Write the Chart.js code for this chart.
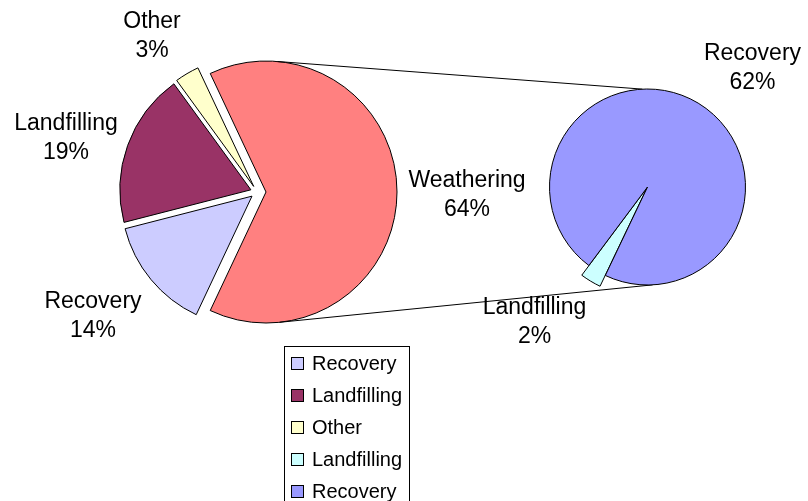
<!DOCTYPE html>
<html>
<head>
<meta charset="utf-8">
<script src="https://cdn.jsdelivr.net/npm/chart.js@4.4.1/dist/chart.umd.min.js"></script>
<style>
  html, body { margin: 0; padding: 0; background: #fff; }
  #wrap { position: relative; width: 808px; height: 501px; overflow: hidden; }
  #wrap canvas { position: absolute; left: 0; top: 0; }
  #legend {
    position: absolute; left: 284px; top: 346px; width: 126px; height: 180px;
    border: 1px solid #000; box-sizing: border-box; padding-top: 0;
    font-family: "Liberation Sans", Arial, sans-serif; font-size: 20px; color: #000;
  }
  .legend-row { display: flex; align-items: center; height: 32px; }
  .legend-box { width: 11px; height: 11px; border: 1px solid #000; margin: 0 8px 0 6px; flex: none; }
</style>
</head>
<body>
<div id="wrap">
  <canvas id="mainPie" width="808" height="501"></canvas>
  <canvas id="subPie" width="808" height="501"></canvas>
  <div id="legend"></div>
</div>
<script>
// main pie (Weathering is broken out into the small pie on the right)
const mainLabels = ["Weathering", "Recovery", "Landfilling", "Other"];
const mainValues = [64, 14, 19, 3];
const mainColors = ["#ff8080", "#ccccff", "#993366", "#ffffcc"];

const subLabels = ["Landfilling", "Recovery"];
const subValues = [2, 62];
const subColors = ["#ccffff", "#9999ff"];

const FONT = '23px "Liberation Sans", Arial, sans-serif';
const LINE_GAP = 29;

// move each slice out along its bisector, optionally with a bigger radius
const explodePlugin = {
  id: "explode",
  afterDatasetUpdate(chart, args) {
    const ds = chart.data.datasets[args.index];
    args.meta.data.forEach((arc, i) => {
      const d = (ds.explode || [])[i] || 0;
      const grow = (ds.grow || [])[i] || 0;
      const mid = (arc.startAngle + arc.endAngle) / 2;
      arc.x += Math.cos(mid) * d;
      arc.y += Math.sin(mid) * d;
      arc.outerRadius += grow;
    });
  }
};

// name + percent under each slice label
const sliceLabels = {
  id: "sliceLabels",
  afterDatasetsDraw(chart) {
    const { ctx, chartArea } = chart;
    const cx = (chartArea.left + chartArea.right) / 2;
    const cy = (chartArea.top + chartArea.bottom) / 2;
    const ds = chart.data.datasets[0];
    ctx.save();
    ctx.font = FONT;
    ctx.fillStyle = "#000";
    ctx.textAlign = "center";
    ctx.textBaseline = "alphabetic";
    chart.data.labels.forEach((name, i) => {
      const [dx, dy] = ds.labelAt[i];
      ctx.fillText(name, cx + dx, cy + dy);
      ctx.fillText(ds.data[i] + "%", cx + dx, cy + dy + LINE_GAP);
    });
    ctx.restore();
  }
};

function pieOptions(rotation, radius, padding) {
  return {
    responsive: false,
    animation: false,
    events: [],
    rotation,
    radius,
    layout: { padding },
    plugins: { legend: { display: false }, tooltip: { enabled: false } }
  };
}

const mainTotal = mainValues.reduce((a, b) => a + b, 0);

const mainChart = new Chart(document.getElementById("mainPie"), {
  type: "pie",
  data: {
    labels: mainLabels,
    datasets: [{
      data: mainValues,
      backgroundColor: mainColors,
      borderColor: "#000",
      borderWidth: 1,
      borderJoinStyle: "miter",
      explode: [9, 6.5, 6.5, 6.5],
      labelAt: [[210, -5], [-164, 116], [-191, -62], [-105, -164]]
    }]
  },
  // first slice centred on the right-hand side
  options: pieOptions(90 - mainValues[0] / mainTotal * 180, 131,
    { left: 0, right: 294, top: 0, bottom: 117 }),
  plugins: [explodePlugin, sliceLabels]
});

// lines joining the broken-out slice to the secondary pie
const connectors = {
  id: "connectors",
  beforeDatasetsDraw(chart) {
    const big = mainChart.getDatasetMeta(0).data[0];
    const small = chart.getDatasetMeta(0).data[1];
    const pt = (arc, r, deg) => {
      const a = deg * Math.PI / 180;
      return [arc.x + Math.cos(a) * r, arc.y + Math.sin(a) * r];
    };
    const ends = [[-85, -93], [84, 87]];
    const { ctx } = chart;
    ctx.save();
    ctx.strokeStyle = "#000";
    ctx.lineWidth = 1;
    ends.forEach(([a1, a2]) => {
      const p1 = pt(big, big.outerRadius, a1);
      const p2 = pt(small, small.outerRadius, a2);
      ctx.beginPath();
      ctx.moveTo(p1[0], p1[1]);
      ctx.lineTo(p2[0], p2[1]);
      ctx.stroke();
    });
    ctx.restore();
  }
};

new Chart(document.getElementById("subPie"), {
  type: "pie",
  data: {
    labels: subLabels,
    datasets: [{
      data: subValues,
      backgroundColor: subColors,
      borderColor: "#000",
      borderWidth: 1,
      borderJoinStyle: "miter",
      explode: [1, 0],
      grow: [11, 0],
      labelAt: [[-113, 127], [105, -127]]
    }]
  },
  options: pieOptions(205.5, 98, { left: 487, right: 0, top: 0, bottom: 127 }),
  plugins: [explodePlugin, connectors, sliceLabels]
});

// legend: small slices of the main pie, then the secondary pie
const legendItems = mainLabels.slice(1).map((l, i) => [l, mainColors[i + 1]])
  .concat(subLabels.map((l, i) => [l, subColors[i]]));
document.getElementById("legend").innerHTML = legendItems.map(([label, color]) => `
  <div class="legend-row"><span class="legend-box" style="background:${color}"></span>${label}</div>
`).join("");
</script>
</body>
</html>
